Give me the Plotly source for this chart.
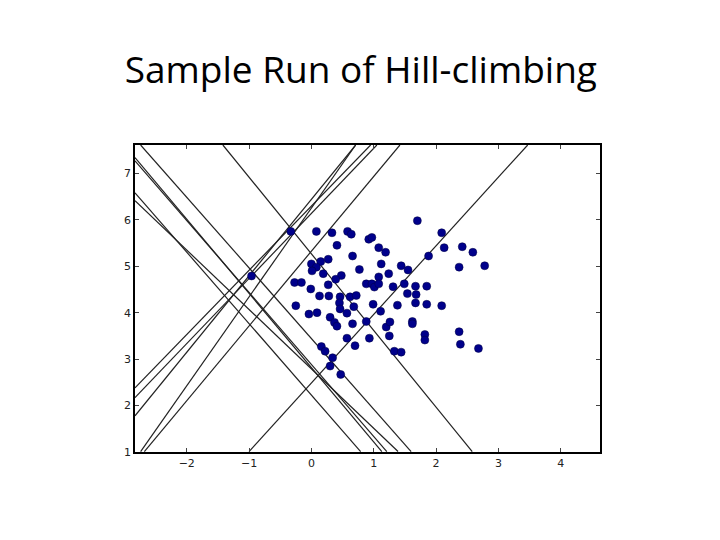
import plotly.graph_objects as go

px = [-0.33,0.08,0.33,0.58,0.64,0.92,0.97,0.41,1.08,1.19,2.09,2.13,2.42,2.59,1.70,1.88,0.66,0.27,0.15,0.0,0.08,0.01,0.77,1.12,1.44,1.55,2.37,2.78,
      -0.96,0.19,0.48,0.39,1.08,1.24,-0.27,-0.16,-0.01,0.27,0.88,0.97,1.01,1.08,1.31,1.49,1.67,1.85,0.13,0.28,0.46,0.62,0.72,1.54,1.68,
      -0.25,0.45,0.46,0.57,0.68,0.99,1.11,1.38,1.67,1.85,2.09,-0.04,0.09,0.30,0.37,0.41,0.66,0.88,1.20,1.26,1.62,1.62,
      0.57,0.70,0.93,1.25,1.82,1.82,2.37,2.39,2.68,0.16,0.22,0.34,0.30,0.47,1.33,1.44]
py = [5.75,5.75,5.72,5.75,5.69,5.58,5.62,5.45,5.40,5.30,5.72,5.40,5.42,5.30,5.98,5.22,5.22,5.15,5.10,5.05,4.98,4.90,4.93,5.05,5.01,4.92,4.98,5.01,
      4.79,4.84,4.80,4.72,4.77,4.84,4.65,4.65,4.51,4.60,4.62,4.62,4.55,4.62,4.56,4.62,4.57,4.57,4.36,4.36,4.34,4.34,4.37,4.41,4.39,
      4.15,4.21,4.08,3.99,4.13,4.18,4.03,4.16,4.21,4.18,4.15,3.97,4.00,3.90,3.79,3.71,3.76,3.81,3.69,3.80,3.81,3.76,
      3.45,3.29,3.45,3.50,3.53,3.41,3.59,3.32,3.23,3.27,3.17,3.03,2.85,2.67,3.17,3.15]

# line segments (x0, y0, x1, y1)
line_x0 = [-2.83,-2.83,-2.83,-2.74,-2.68,-1.00,-2.83,-2.83,-2.74,-1.42,-2.83,-2.83]
line_y0 = [2.38,2.17,1.78,1.01,1.01,1.01,7.34,7.27,7.61,7.61,6.58,6.41]
line_x1 = [0.95,1.05,0.71,0.71,1.42,3.47,1.13,1.21,1.60,2.58,0.79,1.39]
line_y1 = [7.61,7.61,7.61,7.61,7.61,7.61,1.01,1.01,1.01,1.01,1.01,1.01]

fig = go.Figure()
for a, b, c, d in zip(line_x0, line_y0, line_x1, line_y1):
    fig.add_trace(go.Scatter(x=[a, c], y=[b, d], mode="lines",
                             line=dict(color="#222222", width=1.2), showlegend=False))
fig.add_trace(go.Scatter(x=px, y=py, mode="markers", showlegend=False,
                         marker=dict(color="#00008b", size=8, line=dict(color="#000040", width=0.5))))

ax = dict(showgrid=False, zeroline=False, showline=True, mirror="allticks", linecolor="black",
          linewidth=1.5, ticks="inside", ticklen=4, tickfont=dict(family="DejaVu Sans", size=11, color="#222"))
fig.update_layout(
    width=720, height=540, plot_bgcolor="white", paper_bgcolor="white",
    margin=dict(l=127, r=128, t=137, b=96),
    title=dict(text="Sample Run of Hill-climbing", x=0.49, y=0.885, xref="container", xanchor="center", yanchor="middle",
               font=dict(family="Open Sans", size=37, color="black")),
    xaxis=dict(range=[-2.83, 4.63], tickvals=[-2, -1, 0, 1, 2, 3, 4],
               ticktext=["\u22122", "\u22121", "0", "1", "2", "3", "4"], **ax),
    yaxis=dict(range=[1.0, 7.61], tickvals=[1, 2, 3, 4, 5, 6, 7], **ax),
)
fig.write_html("out.html")
